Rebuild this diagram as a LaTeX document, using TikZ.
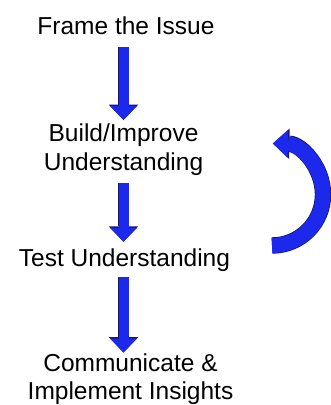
\documentclass[tikz,border=0pt]{standalone}
\usepackage{fontspec}
\setmainfont{Liberation Sans}
\usetikzlibrary{arrows.meta}

\definecolor{arrowblue}{RGB}{28,40,235}
\definecolor{arrowedge}{RGB}{20,24,110}

\tikzset{
    stage/.style={font=\fontsize{24.5}{29}\selectfont, align=center, inner sep=0pt},
    flow/.style={draw=arrowblue, line width=10pt,
        -{Triangle[length=14pt, width=27pt, line width'=0pt]},
        preaction={draw=arrowedge, line width=11.4pt,
            -{Triangle[length=15.5pt, width=29.5pt, line width'=0pt]}}},
    loopflow/.style={draw=arrowblue, line width=15pt,
        -{Triangle[length=15pt, width=28pt, line width'=0pt]},
        preaction={draw=arrowedge, line width=16.4pt,
            -{Triangle[length=16.5pt, width=30.5pt, line width'=0pt]}}}
}

\begin{document}
\begin{tikzpicture}[x=1pt, y=-1pt]
    \useasboundingbox (0,0) rectangle (331,405);

    \node[stage, anchor=base] (frame) at (126,34.5) {Frame the Issue};
    
    \node[stage, anchor=north] (build) at (123.5,123.3) {Build/Improve\\Understanding};
    
    \node[stage, anchor=base] (test) at (124.5,266.7) {Test Understanding};
    
    \node[stage, anchor=north, font=\fontsize{24.5}{28}\selectfont] (comm) at (130.5,354) {Communicate \&\\Implement Insights};
    
    \coordinate (loopstart) at (272,245.5);
    
    
    
    \draw[flow, shorten <=12pt, shorten >=3.3pt] (frame.south -| build.north) -- (build.north);
    \draw[flow, shorten <=7.3pt, shorten >=7pt] (build.south) -- (test.north -| build.south);
    \draw[flow, shorten <=5pt, shorten >=1.5pt] (test.south -| build.south) -- (comm.north -| build.south);
    \draw[loopflow] (loopstart) arc[start angle=90, end angle=-89, radius=51];
    
\end{tikzpicture}
\end{document}
